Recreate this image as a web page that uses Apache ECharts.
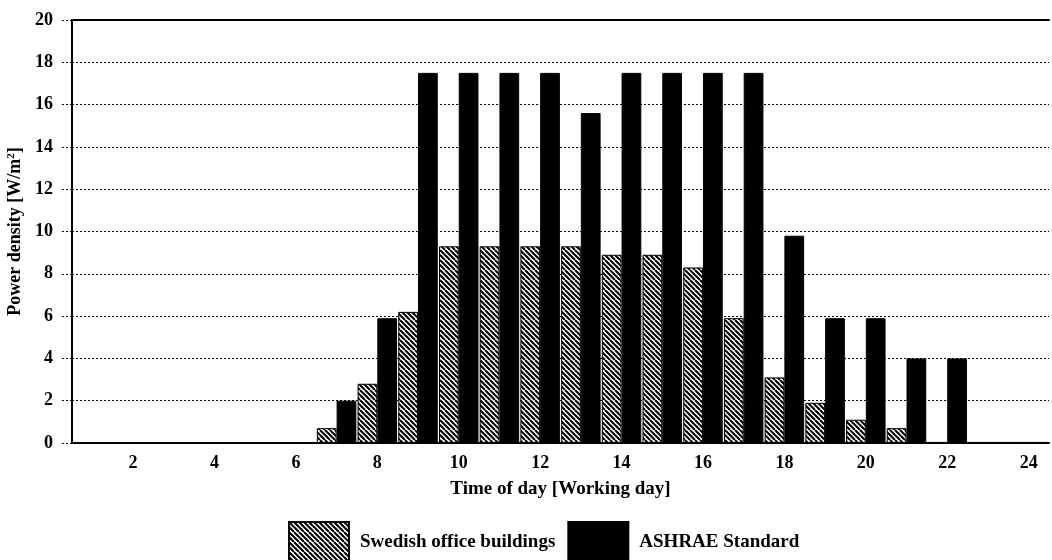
<!DOCTYPE html>
<html>
<head>
<meta charset="utf-8">
<script src="https://cdn.jsdelivr.net/npm/echarts@6/dist/echarts.min.js"></script>
<style>html,body{margin:0;padding:0;background:#fff}#c{width:1052px;height:560px}</style>
</head>
<body>
<div id="c"></div>
<script>
const hours = ['1','2','3','4','5','6','7','8','9','10','11','12','13','14','15','16','17','18','19','20','21','22','23','24'];
const swedish = [0,0,0,0,0,0,0.7,2.8,6.2,9.3,9.3,9.3,9.3,8.9,8.9,8.3,5.9,3.1,1.9,1.1,0.7,0.05,0.05,0.05];
const ashrae  = [0,0,0,0,0,0,2.0,5.9,17.5,17.5,17.5,17.5,15.6,17.5,17.5,17.5,17.5,9.8,5.9,5.9,4.0,4.0,0.05,0.05];
const yTicks = [0,2,4,6,8,10,12,14,16,18,20];

function hatch(){
  const s = 10;
  const c = document.createElement('canvas');
  c.width = s; c.height = s;
  const g = c.getContext('2d');
  g.fillStyle = '#fff'; g.fillRect(0,0,s,s);
  g.strokeStyle = '#000'; g.lineWidth = 2;
  for (let k = -2*s; k <= 2*s; k += 5) {
    g.beginPath(); g.moveTo(k, 0); g.lineTo(k + s, s); g.stroke();
  }
  return c;
}
const pat = {image: hatch(), repeat: 'repeat'};
const FONT = '"Liberation Serif","DejaVu Serif",serif';

const chart = echarts.init(document.getElementById('c'));
chart.setOption({
  animation: false,
  backgroundColor: '#fff',
  textStyle: {fontFamily: FONT, color: '#000'},
  grid: {left: 72, right: 3, top: 20, bottom: 117, containLabel: false, outerBoundsMode: 'none'},
  legend: {
    top: 516, left: 283,
    icon: 'rect',
    itemWidth: 60, itemHeight: 40, itemGap: 12,
    textStyle: {fontFamily: FONT, fontSize: 19, fontWeight: 'bold', color: '#000', padding: [0,0,0,6]},
    data: ['Swedish office buildings', 'ASHRAE Standard']
  },
  xAxis: [{
    type: 'category', data: hours,
    name: 'Time of day [Working day]', nameLocation: 'middle', nameGap: 37,
    nameTextStyle: {fontFamily: FONT, fontSize: 19, fontWeight: 'bold', color: '#000'},
    axisLine: {lineStyle: {color: '#000', width: 2}},
    axisTick: {show: false},
    axisLabel: {interval: function(i){return (i % 2) === 1;}, fontFamily: FONT, fontSize: 18, fontWeight: 'bold', color: '#000', margin: 11}
  }, {
    type: 'category', data: hours, position: 'top',
    axisLine: {show: true, lineStyle: {color: '#000', width: 2}},
    axisTick: {show: false}, axisLabel: {show: false}
  }],
  yAxis: {
    type: 'value', min: 0, max: 20, interval: 2,
    name: 'Power density [W/m{sup|2}]', nameLocation: 'middle', nameGap: 45, nameRotate: 90,
    nameTextStyle: {fontFamily: FONT, fontSize: 18, fontWeight: 'bold', color: '#000',
      rich: {sup: {fontSize: 11, fontWeight: 'bold', verticalAlign: 'top', padding: [0,0,8,0], fontFamily: FONT}}},
    axisLine: {show: true, lineStyle: {color: '#000', width: 2}},
    axisTick: {show: true, length: 10, lineStyle: {color: '#000', type: [2,2], width: 1}},
    axisLabel: {fontFamily: FONT, fontSize: 18, fontWeight: 'bold', color: '#000', margin: 19,
      formatter: function(v){ return yTicks.indexOf(v) >= 0 ? String(v) : ''; }},
    splitLine: {show: true, lineStyle: {color: '#000', type: [2,2], width: 1}}
  },
  series: [{
    name: 'Swedish office buildings', type: 'bar', data: swedish,
    barGap: '0%', barCategoryGap: '3%',
    itemStyle: {color: pat, borderColor: '#000', borderWidth: 1}
  }, {
    name: 'ASHRAE Standard', type: 'bar', data: ashrae,
    itemStyle: {color: '#000', borderColor: '#000', borderWidth: 1}
  }]
});
</script>
</body>
</html>
